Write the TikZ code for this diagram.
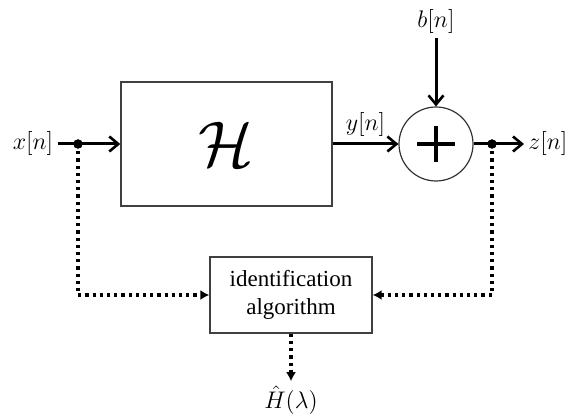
\documentclass[tikz,border=0pt]{standalone}
\usepackage{graphicx}
\usepackage{fontspec}
\setmainfont{Liberation Serif}
\usetikzlibrary{arrows.meta, positioning}

\begin{document}
\begin{tikzpicture}[x=0.5pt, y=-0.5pt,
        block/.style={draw=black!75, line width=0.7pt, fill=white,
                      minimum width=105.5pt, minimum height=62pt},
        idbox/.style={draw=black!75, line width=0.7pt, fill=white,
                      minimum width=81pt, minimum height=38pt, align=center,
                      font=\fontsize{11.5}{14}\selectfont},
        sumnode/.style={circle, draw=black!80, line width=0.6pt,
                        minimum size=37pt, inner sep=0pt},
        sig/.style={font=\large, inner sep=2pt},
        junc/.style={circle, fill=black, inner sep=0pt, minimum size=4.6pt},
        arr/.style={-{Straight Barb[length=4.5pt, width=7.5pt, line width=1.3pt]},
                    line width=1.5pt},
        darr/.style={-{Latex[length=4.5pt, width=5pt]}, line width=1.6pt,
                     dash pattern=on 1.6pt off 2pt}
    ]
        \useasboundingbox (0,0) rectangle (571,416);
        % forward path
        \node[sig] (x) at (33,144) {$x[n]$};
        \node[junc] (xj) at (78,144) {};
        \node[block] (H) at (226.5,144) {\scalebox{1.3}{\Huge$\mathcal{H}$}};
        \node[sumnode] (sum) at (436,144) {};
        \draw[line width=1.6pt] ([xshift=-9.5pt]sum.center) -- ([xshift=9.5pt]sum.center);
        \draw[line width=1.6pt] ([yshift=-9pt]sum.center) -- ([yshift=9pt]sum.center);
        \node[sig] (b) at (436,22) {$b[n]$};
        \node[junc] (zj) at (492,144) {};
        \node[sig, anchor=west] (z) at (524,144) {$z[n]$};
        \draw[arr] (x) -- (H);
        \draw[arr] (H) -- node[sig, above=1pt] (y) {$y[n]$} (sum);
        \draw[arr] (b) -- (sum);
        \draw[arr] (sum) -- (z);
        \node[junc] at (xj) {};
        \node[junc] at (zj) {};
        % identification
        \node[idbox] (id) at (291,295) {identification\\algorithm};
        \node[sig] (Hhat) at (291,400) {$\hat{H}(\lambda)$};
        \draw[darr] (xj.center) |- (id.west);
        \draw[darr] (zj.center) |- (id.east);
        \draw[darr] (id) -- (Hhat);
    \end{tikzpicture}
\end{document}
